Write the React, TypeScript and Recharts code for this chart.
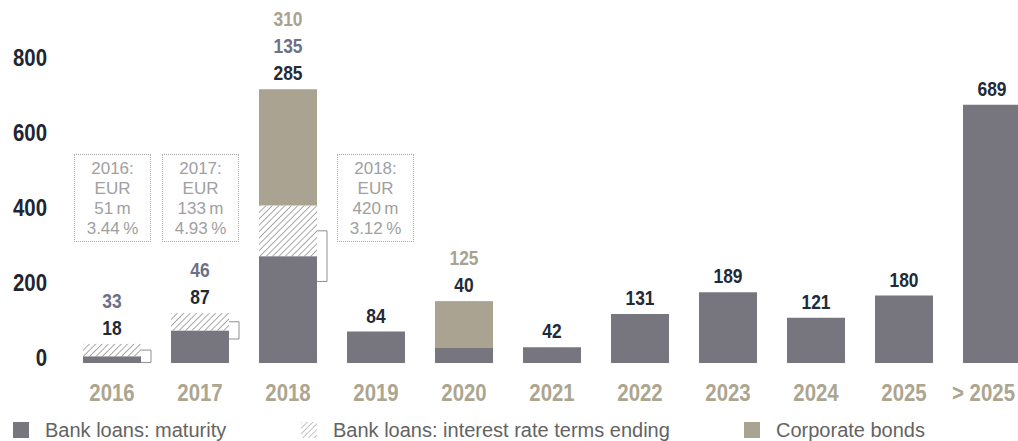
import { BarChart, Bar, XAxis, YAxis } from 'recharts';

const categories = ['2016', '2017', '2018', '2019', '2020', '2021', '2022', '2023', '2024', '2025', '> 2025'];
const maturity = [18, 87, 285, 84, 40, 42, 131, 189, 121, 180, 689];
const rateTerms = [33, 46, 135, 0, 0, 0, 0, 0, 0, 0, 0];
const bonds = [0, 0, 310, 0, 125, 0, 0, 0, 0, 0, 0];
const yTicks = [0, 200, 400, 600, 800];

const notes = [
  { year: '2016:', amount: '51\u2009m', rate: '3.44\u2009%', left: 74 },
  { year: '2017:', amount: '133\u2009m', rate: '4.93\u2009%', left: 162 },
  { year: '2018:', amount: '420\u2009m', rate: '3.12\u2009%', left: 337 },
];

const data = categories.map((name, i) => ({
  name,
  maturity: maturity[i],
  rateTerms: rateTerms[i],
  bonds: bonds[i],
}));

const DARK = '#77767f';
const TAN = '#aba392';
const NUM_FONT = '"Liberation Sans", Arial, sans-serif';
const TEXT_FONT = '"Liberation Sans", Arial, sans-serif';

// condensed bold numbers: squeeze a regular bold face horizontally
const Narrow = ({ x, y, size, fill, anchor = 'middle', scale = 0.85, children }: any) => (
  <text
    transform={`translate(${x},${y}) scale(${scale},1)`}
    dy="0.36em"
    textAnchor={anchor}
    fontFamily={NUM_FONT}
    fontWeight={700}
    fontSize={size}
    fill={fill}
  >
    {children}
  </text>
);

const YTick = (props: any) => {
  const { x, y, payload } = props;
  return (
    <Narrow x={x} y={y - 6} size={24} fill="#1f2533" anchor="end">
      {payload.value}
    </Narrow>
  );
};

const XTick = (props: any) => {
  const { x, y, payload, index } = props;
  const last = index === categories.length - 1;
  return (
    <Narrow x={last ? Math.min(x + 30, 1015) : x} y={y + 21} size={24} fill="#aca590" anchor={last ? 'end' : 'middle'}>
      {payload.value}
    </Narrow>
  );
};

const HatchShape = (props: any) => {
  const { x, y, width, height, index } = props;
  if (!height) return null;
  const id = `hatch-${index}`;
  const bx = x + width;
  const by = y + height / 2;
  return (
    <g>
      <defs>
        <pattern id={id} patternUnits="userSpaceOnUse" width={4.5} height={4.5} patternTransform="rotate(45)">
          <rect width={4.5} height={4.5} fill="#ffffff" />
          <line x1={0} y1={0} x2={0} y2={4.5} stroke="#a0a0a0" strokeWidth={1.8} />
        </pattern>
      </defs>
      <rect x={x} y={y} width={width} height={height} fill={`url(#${id})`} />
      <path d={`M${bx},${by} H${bx + 10} V${by + height} H${bx}`} fill="#fff" stroke="#8f8f8f" strokeWidth={1} />
    </g>
  );
};

const TopShape = (props: any) => {
  const { x, y, width, height, payload } = props;
  const cx = x + width / 2;
  const labels: { v: number; c: string }[] = [{ v: payload.maturity, c: '#222a38' }];
  if (payload.rateTerms) labels.push({ v: payload.rateTerms, c: '#6d7186' });
  if (payload.bonds) labels.push({ v: payload.bonds, c: '#a9a28f' });
  return (
    <g>
      {height > 0 && <rect x={x} y={y} width={width} height={height} fill={TAN} />}
      {labels.map((l, i) => (
        <Narrow key={i} x={cx} y={y - 16 - i * 27} size={20} fill={l.c} scale={0.87}>
          {l.v}
        </Narrow>
      ))}
    </g>
  );
};

const legendItems = [
  { label: 'Bank loans: maturity', left: 13, kind: 'dark' },
  { label: 'Bank loans: interest rate terms ending', left: 301, kind: 'hatch' },
  { label: 'Corporate bonds', left: 744, kind: 'tan' },
];

export default function App() {
  return (
    <div style={{ position: 'absolute', left: 0, top: 0, width: 1018, height: 441, overflow: 'hidden', background: '#fff' }}>
      <BarChart width={1036} height={441} data={data} margin={{ top: 63, right: 0, bottom: 0, left: 0 }} barSize={58}>
        <XAxis dataKey="name" axisLine={false} tickLine={false} height={78} tick={<XTick />} interval={0} />
        <YAxis domain={[0, 800]} ticks={yTicks} axisLine={false} tickLine={false} width={68} tickSize={0} tickMargin={21} tick={<YTick />} />
        <Bar dataKey="maturity" stackId="a" fill={DARK} isAnimationActive={false} />
        <Bar dataKey="rateTerms" stackId="a" fill="#fff" shape={<HatchShape />} isAnimationActive={false} />
        <Bar dataKey="bonds" stackId="a" fill={TAN} shape={<TopShape />} isAnimationActive={false} />
      </BarChart>

      {notes.map((n) => (
        <div
          key={n.year}
          style={{
            position: 'absolute',
            left: n.left,
            top: 154,
            width: 77,
            height: 88,
            boxSizing: 'border-box',
            border: '1.5px dotted #a8a8a8',
            fontFamily: TEXT_FONT,
            fontSize: 17,
            lineHeight: '20px',
            color: '#a0a0a0',
            textAlign: 'center',
            paddingTop: 4,
          }}
        >
          <div>{n.year}</div>
          <div>EUR</div>
          <div>{n.amount}</div>
          <div>{n.rate}</div>
        </div>
      ))}

      {legendItems.map((it) => (
        <div key={it.label} style={{ position: 'absolute', left: it.left, top: 419, height: 22, display: 'flex', alignItems: 'center', fontFamily: TEXT_FONT, fontSize: 20, color: '#636363' }}>
          <svg width={16} height={16} style={{ marginRight: 16 }}>
            <defs>
              <pattern id="leg-hatch" patternUnits="userSpaceOnUse" width={4} height={4} patternTransform="rotate(45)">
                <rect width={4} height={4} fill="#fff" />
                <line x1={0} y1={0} x2={0} y2={4} stroke="#b0b0b0" strokeWidth={1.5} />
              </pattern>
            </defs>
            <rect width={16} height={16} fill={it.kind === 'dark' ? DARK : it.kind === 'tan' ? TAN : 'url(#leg-hatch)'} />
          </svg>
          <span>{it.label}</span>
        </div>
      ))}
    </div>
  );
}
